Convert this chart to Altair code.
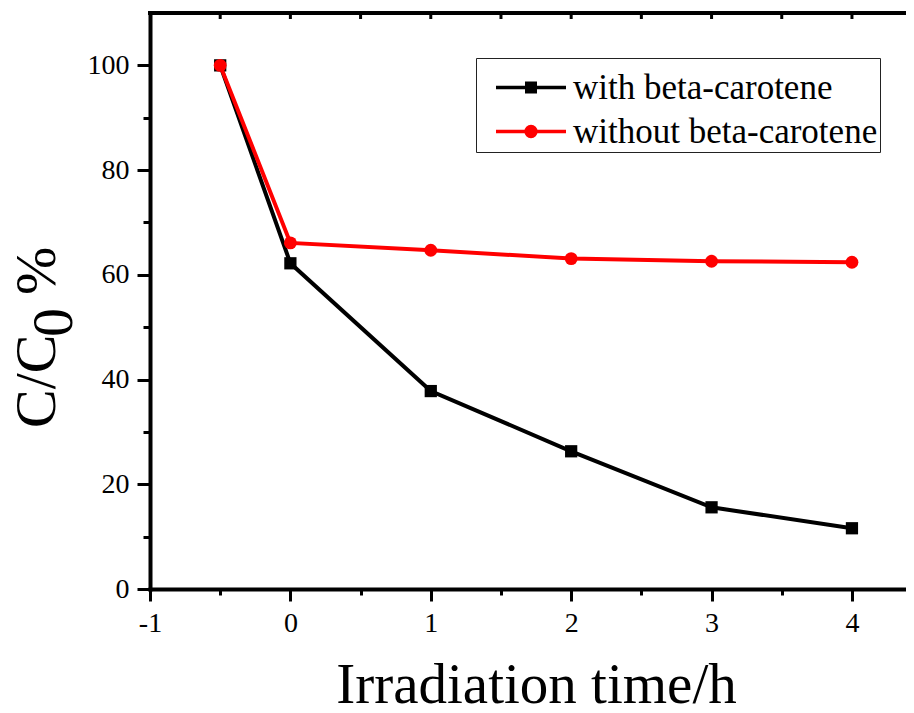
import altair as alt
import pandas as pd

# ---------------- data ----------------
times = [-0.5, 0, 1, 2, 3, 4]
with_beta = [100, 62.2, 37.8, 26.3, 15.6, 11.6]
without_beta = [100, 66.1, 64.7, 63.1, 62.6, 62.4]
series_names = ["with beta-carotene", "without beta-carotene"]
series_colors = ["#000000", "#ff0000"]

x_ticks = [-1, -0.5, 0, 0.5, 1, 1.5, 2, 2.5, 3, 3.5, 4]
top_ticks = [-0.5, 0, 0.5, 1, 1.5, 2, 2.5, 3, 3.5, 4]
y_ticks = [0, 10, 20, 30, 40, 50, 60, 70, 80, 90, 100]
x_domain = [-1, 4.385]
y_domain = [0, 110]
x_title = "Irradiation time/h"
y_title_parts = ["C/C", "0", "%"]

W, H = 756, 576
FONT = "Liberation Serif"

df = pd.DataFrame({
    "time": times + times,
    "value": with_beta + without_beta,
    "series": [series_names[0]] * len(times) + [series_names[1]] * len(times),
})

xs = alt.Scale(domain=x_domain, nice=False, zero=False)
ys = alt.Scale(domain=y_domain, nice=False, zero=False)

x_axis = alt.Axis(
    values=x_ticks,
    labelExpr="datum.value % 1 == 0 ? '' + datum.value : ''",
    tickSize={"condition": {"test": "datum.value % 1 != 0", "value": 6}, "value": 12},
    tickWidth=3, tickColor="black", domainColor="black", domainWidth=4, domainCap="square",
    labelFont=FONT, labelFontSize=28, labelColor="black", labelPadding=8,
    labelFlush=False, labelOverlap=False, grid=False,
    title=x_title, titleFont=FONT, titleFontSize=57, titleFontWeight="normal",
    titleColor="black", titleX=386, titleY=113, titleAlign="center",
    titleBaseline="alphabetic", titleAnchor="start",
)
y_axis = alt.Axis(
    values=y_ticks,
    labelExpr="datum.value % 20 == 0 ? '' + datum.value : ''",
    tickSize={"condition": {"test": "datum.value % 20 != 0", "value": 7}, "value": 13},
    tickWidth=3, tickColor="black", domainColor="black", domainWidth=4, domainCap="square",
    labelFont=FONT, labelFontSize=28, labelColor="black", labelPadding=8,
    labelFlush=False, labelOverlap=False, grid=False, title=None,
)

base = alt.Chart(df)
f_with = alt.datum.series == series_names[0]
f_without = alt.datum.series == series_names[1]

black_line = base.transform_filter(f_with).mark_line(strokeWidth=4, color=series_colors[0]).encode(
    x=alt.X("time:Q", scale=xs, axis=x_axis),
    y=alt.Y("value:Q", scale=ys, axis=y_axis),
)
black_pts = base.transform_filter(f_with).mark_point(
    shape="square", filled=True, size=150, opacity=1, color=series_colors[0]).encode(
    x=alt.X("time:Q"), y=alt.Y("value:Q"),
)
red_line = base.transform_filter(f_without).mark_line(strokeWidth=4, color=series_colors[1]).encode(
    x=alt.X("time:Q"), y=alt.Y("value:Q"),
)
red_pts = base.transform_filter(f_without).mark_point(
    shape="circle", filled=True, size=165, opacity=1, color=series_colors[1]).encode(
    x=alt.X("time:Q"), y=alt.Y("value:Q"),
)

# top frame line and its inward ticks
top_df = pd.DataFrame({"time": top_ticks})
top_ticks_layer = alt.Chart(top_df).mark_rule(color="black", strokeWidth=3).encode(
    x=alt.X("time:Q"), y=alt.value(0), y2=alt.value(6),
)
top_frame = alt.Chart(pd.DataFrame({"k": [0]})).mark_rule(color="black", strokeWidth=4).encode(
    x=alt.value(-2), x2=alt.value(W + 10), y=alt.value(0),
)

# y title with lowered subscript
def ytext(txt, xpos, ypos):
    return alt.Chart(pd.DataFrame({"t": [txt]})).mark_text(
        font=FONT, fontSize=58, angle=270, align="left", baseline="alphabetic", color="black"
    ).encode(text="t:N", x=alt.value(xpos), y=alt.value(ypos))

yt = [
    ytext(y_title_parts[0], -95, 415),
    ytext(y_title_parts[1], -78, 324),
    ytext(y_title_parts[2], -95, 282),
]

# legend: line + marker symbols (custom paths, scale 6 px per unit at size 144)
sq_path = "M-5.833,0H5.833M-0.708,-0.708H0.708V0.708H-0.708Z"
ci_path = ("M-5.833,0H5.833M0.817,0A0.817,0.817 0 1,1 -0.817,0"
           "A0.817,0.817 0 1,1 0.817,0Z")
leg = alt.Legend(
    title=" ", titleFontSize=6, titlePadding=4,
    orient="none", legendX=326, legendY=45,
    padding=2, rowPadding=8, symbolSize=144, symbolStrokeWidth=3.5,
    symbolOffset=35.5, labelOffset=24.5, symbolOpacity=1,
    labelFont=FONT, labelFontSize=35, labelColor="black", labelLimit=500,
    strokeColor="#222222", fillColor="white",
)
legend_layer = alt.Chart(pd.DataFrame({"series": series_names})).mark_point(
    filled=True, opacity=0, size=144).encode(
    fill=alt.Fill("series:N", scale=alt.Scale(domain=series_names, range=series_colors), legend=leg),
    stroke=alt.Stroke("series:N", scale=alt.Scale(domain=series_names, range=series_colors), legend=leg),
    shape=alt.Shape("series:N", scale=alt.Scale(domain=series_names, range=[sq_path, ci_path]), legend=leg),
)

chart = alt.layer(
    black_line, black_pts, red_line, red_pts, top_ticks_layer, top_frame, *yt, legend_layer
).properties(
    width=W, height=H,
    autosize=alt.AutoSizeParams(type="none"),
    padding={"left": 142, "top": 5, "right": 0, "bottom": 116},
    background="white",
).configure_view(stroke=None)

chart.save("out.html", embed_options={"renderer": "svg", "actions": False})
